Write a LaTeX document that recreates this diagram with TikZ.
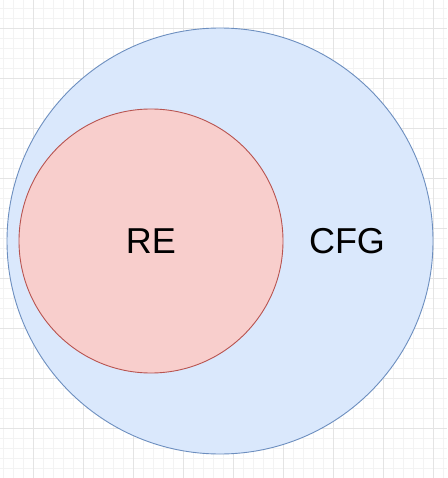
\documentclass[tikz,border=0pt]{standalone}
\usepackage{fontspec}
\setmainfont{Liberation Sans}
\definecolor{bluefill}{HTML}{DAE8FC}
\definecolor{bluedraw}{HTML}{6C8EBF}
\definecolor{redfill}{HTML}{F8CECC}
\definecolor{reddraw}{HTML}{B85450}
\definecolor{gridmin}{HTML}{F3F3F3}
\definecolor{gridmaj}{HTML}{E4E4E4}
\tikzset{
  setcircle/.style={circle, inner sep=0pt, line width=0.9pt},
  lbl/.style={font=\fontsize{36}{40}\selectfont, inner sep=0pt}
}
\begin{document}
\begin{tikzpicture}[x=1pt,y=-1pt]
\useasboundingbox (0,0) rectangle (447,478);
\fill[white] (0,0) rectangle (447,478);
\foreach \i in {0,...,45} {
  \draw[gridmin, line width=0.8pt] ({3+10*\i},0) -- ({3+10*\i},478);
}
\foreach \i in {0,...,48} {
  \draw[gridmin, line width=0.8pt] (0,{8+10*\i}) -- (447,{8+10*\i});
}
\foreach \i in {0,...,9} {
  \draw[gridmaj, line width=0.8pt] ({33+50*\i-50},0) -- ({33+50*\i-50},478);
  \draw[gridmaj, line width=0.8pt] (0,{28+50*\i-50}) -- (447,{28+50*\i-50});
}
\node[setcircle, fill=bluefill, draw=bluedraw, minimum size=426pt] (cfgset) at (220,241) {};
\node[setcircle, fill=redfill, draw=reddraw, minimum size=264pt] (reset) at (151,241) {};
\node[lbl] (re) at (151,241) {RE};
\node[lbl] (cfg) at (347,241) {CFG};
\end{tikzpicture}
\end{document}
